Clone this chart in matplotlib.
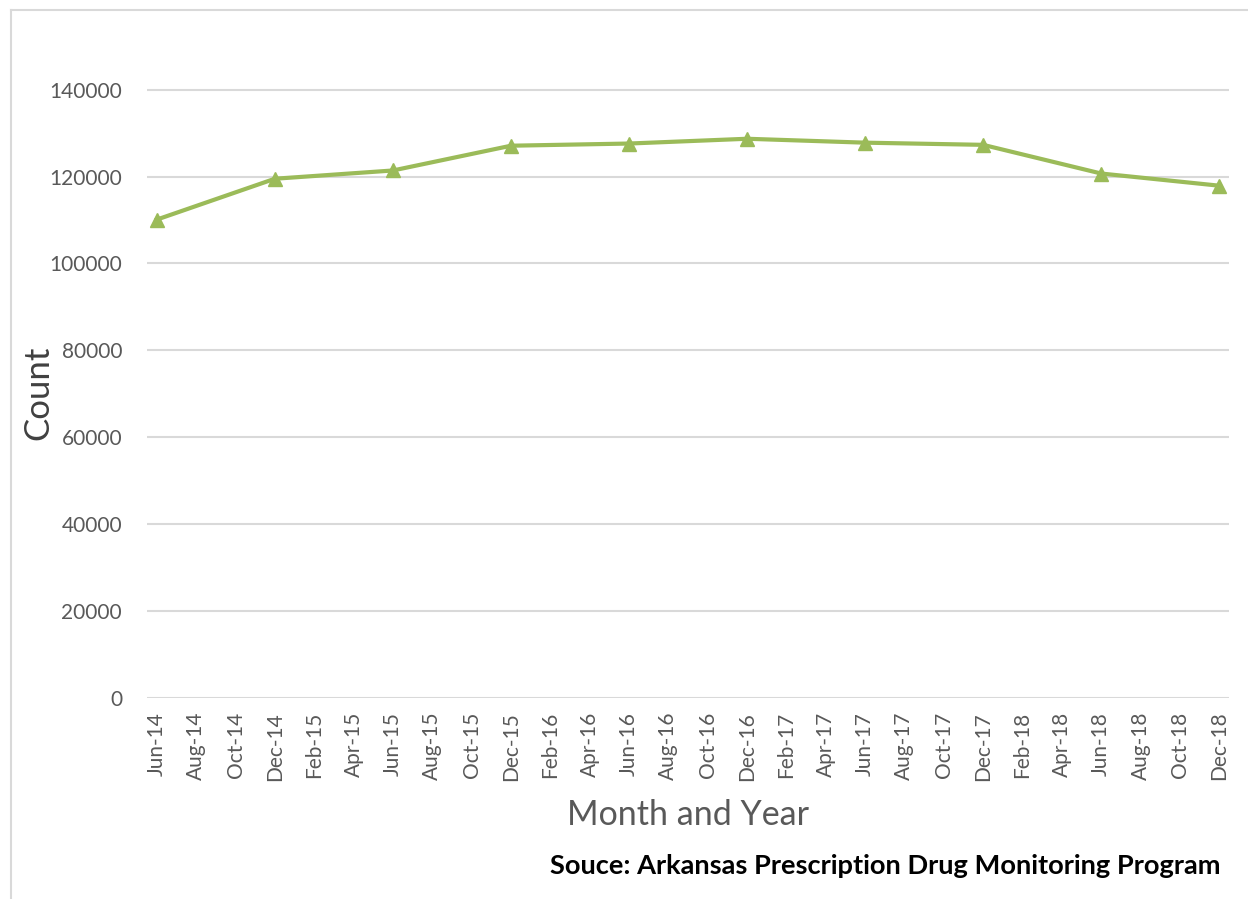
import matplotlib.pyplot as plt
from matplotlib.lines import Line2D

plt.rcParams['font.family'] = ['Lato', 'DejaVu Sans']

# every second month from Jun-14 to Dec-18
tick_labels = []
for y in range(14, 19):
    for m in ['Feb', 'Apr', 'Jun', 'Aug', 'Oct', 'Dec']:
        lab = '%s-%d' % (m, y)
        tick_labels.append(lab)
tick_labels = tick_labels[tick_labels.index('Jun-14'):]

dates = ['Jun-14', 'Dec-14', 'Jun-15', 'Dec-15', 'Jun-16',
         'Dec-16', 'Jun-17', 'Dec-17', 'Jun-18', 'Dec-18']
counts = [110100, 119500, 121400, 127100, 127600,
          128700, 127800, 127300, 120700, 117900]

# month index from Jun-14
tick_pos = [2 * i for i in range(len(tick_labels))]
x = [tick_pos[tick_labels.index(d)] for d in dates]

fig = plt.figure(figsize=(12.48, 8.99), dpi=100)
ax = fig.add_axes([0.1178, 0.2236, 0.867, 0.725])

ax.plot(x, counts, color='#9BBB59', lw=3, marker='^', markersize=10,
        zorder=3)

ax.set_xlim(-0.5, 54.5)
ax.set_ylim(0, 150000)
ax.set_yticks(range(0, 140001, 20000))
ax.set_xticks(tick_pos)
ax.set_xticklabels(tick_labels, rotation=90)
ax.tick_params(axis='both', length=0, labelsize=15, labelcolor='#595959')
ax.tick_params(axis='y', pad=18)
ax.tick_params(axis='x', pad=10)
ax.grid(axis='y', color='#D9D9D9', lw=1.5)
ax.set_axisbelow(True)
for s in ax.spines.values():
    s.set_visible(False)

fig.text(38 / 1248, 1 - 393 / 899, 'Count', rotation=90, ha='center',
         va='center', fontsize=25, color='#404040')
fig.text(688 / 1248, 1 - 815 / 899, 'Month and Year', ha='center',
         va='center', fontsize=24.5, color='#595959')

fig.text(0.978, 1 - 866 / 899,
         'Souce: Arkansas Prescription Drug Monitoring Program',
         ha='right', va='center', fontsize=19.6, fontweight='bold', color='black')

# chart frame (left and top edge)
fig.add_artist(Line2D([11 / 1248, 11 / 1248], [0, 1 - 10 / 899],
                      color='#D9D9D9', lw=1.5))
fig.add_artist(Line2D([11 / 1248, 1], [1 - 10 / 899, 1 - 10 / 899],
                      color='#D9D9D9', lw=1.5))

fig.savefig('out.png', dpi=100)
